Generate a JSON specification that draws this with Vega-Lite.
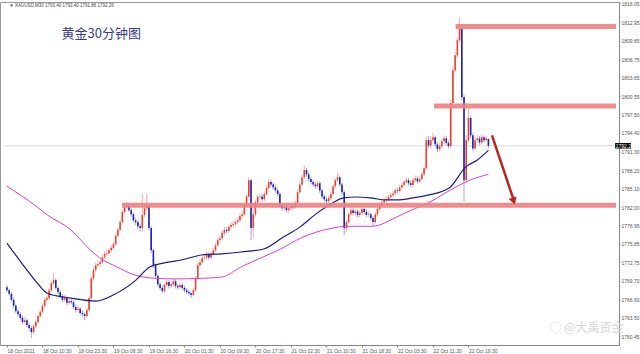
{
"$schema":"https://vega.github.io/schema/vega-lite/v6.json",
"width":619,"height":343,
"autosize":"none",
"padding":{"left":0,"top":2,"right":21,"bottom":9},
"background":"white",
"config":{"view":{"stroke":"#999","strokeWidth":1},"axis":{"grid":false,"labelFont":"Liberation Sans","title":null,"labelOverlap":false,"labelSeparation":0},"axisY":{"labelOverlap":false}},
"datasets":{
"candles":[
{"i":0,"o":1768.6,"h":1769.0,"l":1767.8,"c":1768.1},
{"i":1,"o":1768.1,"h":1768.4,"l":1767.2,"c":1767.5},
{"i":2,"o":1767.5,"h":1767.8,"l":1766.2,"c":1766.5},
{"i":3,"o":1766.5,"h":1766.9,"l":1765.1,"c":1765.5},
{"i":4,"o":1765.5,"h":1765.8,"l":1764.3,"c":1764.6},
{"i":5,"o":1764.6,"h":1765.0,"l":1763.7,"c":1764.1},
{"i":6,"o":1764.1,"h":1764.5,"l":1763.1,"c":1763.5},
{"i":7,"o":1763.5,"h":1763.9,"l":1762.4,"c":1762.8},
{"i":8,"o":1762.8,"h":1763.6,"l":1762.5,"c":1763.1},
{"i":9,"o":1763.1,"h":1763.4,"l":1761.9,"c":1762.3},
{"i":10,"o":1762.3,"h":1762.7,"l":1761.3,"c":1761.8},
{"i":11,"o":1761.8,"h":1762.1,"l":1760.1,"c":1761.1},
{"i":12,"o":1761.1,"h":1762.4,"l":1760.8,"c":1762.1},
{"i":13,"o":1762.1,"h":1763.2,"l":1761.8,"c":1762.8},
{"i":14,"o":1762.8,"h":1764.2,"l":1762.5,"c":1763.8},
{"i":15,"o":1763.8,"h":1764.9,"l":1763.5,"c":1764.5},
{"i":16,"o":1764.5,"h":1765.9,"l":1764.2,"c":1765.5},
{"i":17,"o":1765.5,"h":1766.9,"l":1765.2,"c":1766.5},
{"i":18,"o":1766.5,"h":1767.3,"l":1766.1,"c":1766.8},
{"i":19,"o":1766.8,"h":1768.5,"l":1766.5,"c":1768.1},
{"i":20,"o":1768.1,"h":1769.7,"l":1767.8,"c":1769.3},
{"i":21,"o":1769.3,"h":1771.0,"l":1769.0,"c":1769.8},
{"i":22,"o":1769.8,"h":1770.1,"l":1768.2,"c":1768.5},
{"i":23,"o":1768.5,"h":1768.8,"l":1767.4,"c":1767.8},
{"i":24,"o":1767.8,"h":1768.1,"l":1766.8,"c":1767.1},
{"i":25,"o":1767.1,"h":1767.5,"l":1766.1,"c":1766.5},
{"i":26,"o":1766.5,"h":1767.3,"l":1766.2,"c":1766.8},
{"i":27,"o":1766.8,"h":1767.1,"l":1765.6,"c":1766.0},
{"i":28,"o":1766.0,"h":1766.8,"l":1765.7,"c":1766.3},
{"i":29,"o":1766.3,"h":1766.7,"l":1765.8,"c":1766.1},
{"i":30,"o":1766.1,"h":1766.4,"l":1765.0,"c":1765.3},
{"i":31,"o":1765.3,"h":1765.7,"l":1764.4,"c":1764.8},
{"i":32,"o":1764.8,"h":1765.5,"l":1764.5,"c":1765.0},
{"i":33,"o":1765.0,"h":1765.3,"l":1763.9,"c":1764.3},
{"i":34,"o":1764.3,"h":1764.7,"l":1763.7,"c":1764.1},
{"i":35,"o":1764.1,"h":1764.4,"l":1763.1,"c":1763.8},
{"i":36,"o":1763.8,"h":1765.1,"l":1763.5,"c":1764.8},
{"i":37,"o":1764.8,"h":1767.1,"l":1764.5,"c":1766.8},
{"i":38,"o":1766.8,"h":1770.5,"l":1766.5,"c":1770.1},
{"i":39,"o":1770.1,"h":1771.9,"l":1769.7,"c":1771.5},
{"i":40,"o":1771.5,"h":1772.7,"l":1771.1,"c":1772.3},
{"i":41,"o":1772.3,"h":1773.0,"l":1771.9,"c":1772.5},
{"i":42,"o":1772.5,"h":1773.3,"l":1772.1,"c":1772.8},
{"i":43,"o":1772.8,"h":1774.0,"l":1772.5,"c":1773.6},
{"i":44,"o":1773.6,"h":1774.6,"l":1773.3,"c":1774.2},
{"i":45,"o":1774.2,"h":1774.8,"l":1773.8,"c":1774.3},
{"i":46,"o":1774.3,"h":1775.2,"l":1774.0,"c":1774.8},
{"i":47,"o":1774.8,"h":1775.7,"l":1774.4,"c":1775.2},
{"i":48,"o":1775.2,"h":1776.2,"l":1774.9,"c":1775.8},
{"i":49,"o":1775.8,"h":1777.6,"l":1775.5,"c":1777.2},
{"i":50,"o":1777.2,"h":1778.6,"l":1776.9,"c":1778.2},
{"i":51,"o":1778.2,"h":1779.9,"l":1777.9,"c":1779.5},
{"i":52,"o":1779.5,"h":1781.6,"l":1779.2,"c":1781.2},
{"i":53,"o":1781.2,"h":1782.4,"l":1780.9,"c":1782.0},
{"i":54,"o":1782.0,"h":1782.8,"l":1781.7,"c":1782.2},
{"i":55,"o":1782.2,"h":1782.5,"l":1781.2,"c":1781.5},
{"i":56,"o":1781.5,"h":1781.9,"l":1780.4,"c":1780.8},
{"i":57,"o":1780.8,"h":1781.1,"l":1779.4,"c":1779.8},
{"i":58,"o":1779.8,"h":1780.2,"l":1779.0,"c":1779.5},
{"i":59,"o":1779.5,"h":1779.8,"l":1778.3,"c":1778.8},
{"i":60,"o":1778.8,"h":1779.3,"l":1777.9,"c":1778.5},
{"i":61,"o":1778.5,"h":1784.3,"l":1777.8,"c":1780.7},
{"i":62,"o":1780.7,"h":1782.5,"l":1780.3,"c":1781.8},
{"i":63,"o":1781.8,"h":1784.3,"l":1781.4,"c":1782.2},
{"i":64,"o":1782.2,"h":1782.5,"l":1778.1,"c":1778.5},
{"i":65,"o":1778.5,"h":1778.8,"l":1774.3,"c":1774.8},
{"i":66,"o":1774.8,"h":1775.1,"l":1771.8,"c":1772.3},
{"i":67,"o":1772.3,"h":1772.6,"l":1770.0,"c":1770.5},
{"i":68,"o":1770.5,"h":1770.9,"l":1768.7,"c":1769.1},
{"i":69,"o":1769.1,"h":1769.5,"l":1768.1,"c":1768.5},
{"i":70,"o":1768.5,"h":1768.9,"l":1767.6,"c":1768.0},
{"i":71,"o":1768.0,"h":1769.4,"l":1767.7,"c":1769.0},
{"i":72,"o":1769.0,"h":1769.9,"l":1768.7,"c":1769.5},
{"i":73,"o":1769.5,"h":1769.8,"l":1768.4,"c":1768.8},
{"i":74,"o":1768.8,"h":1769.6,"l":1768.4,"c":1769.1},
{"i":75,"o":1769.1,"h":1770.0,"l":1768.8,"c":1769.6},
{"i":76,"o":1769.6,"h":1769.9,"l":1768.4,"c":1768.8},
{"i":77,"o":1768.8,"h":1769.2,"l":1768.2,"c":1768.6},
{"i":78,"o":1768.6,"h":1769.4,"l":1768.3,"c":1769.0},
{"i":79,"o":1769.0,"h":1769.3,"l":1768.1,"c":1768.5},
{"i":80,"o":1768.5,"h":1768.9,"l":1767.7,"c":1768.1},
{"i":81,"o":1768.1,"h":1768.5,"l":1767.4,"c":1767.8},
{"i":82,"o":1767.8,"h":1768.2,"l":1767.2,"c":1767.6},
{"i":83,"o":1767.6,"h":1767.9,"l":1766.8,"c":1767.3},
{"i":84,"o":1767.3,"h":1768.5,"l":1767.0,"c":1768.1},
{"i":85,"o":1768.1,"h":1770.5,"l":1767.8,"c":1770.1},
{"i":86,"o":1770.1,"h":1772.7,"l":1769.8,"c":1772.3},
{"i":87,"o":1772.3,"h":1773.3,"l":1771.9,"c":1772.8},
{"i":88,"o":1772.8,"h":1773.9,"l":1772.4,"c":1773.5},
{"i":89,"o":1773.5,"h":1774.1,"l":1773.1,"c":1773.6},
{"i":90,"o":1773.6,"h":1774.5,"l":1773.2,"c":1774.0},
{"i":91,"o":1774.0,"h":1774.4,"l":1773.2,"c":1773.6},
{"i":92,"o":1773.6,"h":1774.6,"l":1773.3,"c":1774.2},
{"i":93,"o":1774.2,"h":1775.2,"l":1773.9,"c":1774.8},
{"i":94,"o":1774.8,"h":1776.0,"l":1774.5,"c":1775.6},
{"i":95,"o":1775.6,"h":1776.9,"l":1775.3,"c":1776.5},
{"i":96,"o":1776.5,"h":1777.3,"l":1776.1,"c":1776.8},
{"i":97,"o":1776.8,"h":1778.1,"l":1776.5,"c":1777.7},
{"i":98,"o":1777.7,"h":1778.7,"l":1777.3,"c":1778.2},
{"i":99,"o":1778.2,"h":1778.6,"l":1777.6,"c":1778.0},
{"i":100,"o":1778.0,"h":1779.1,"l":1777.7,"c":1778.7},
{"i":101,"o":1778.7,"h":1779.5,"l":1778.3,"c":1779.0},
{"i":102,"o":1779.0,"h":1779.7,"l":1778.6,"c":1779.2},
{"i":103,"o":1779.2,"h":1779.9,"l":1778.9,"c":1779.5},
{"i":104,"o":1779.5,"h":1780.3,"l":1779.1,"c":1779.8},
{"i":105,"o":1779.8,"h":1780.9,"l":1779.5,"c":1780.5},
{"i":106,"o":1780.5,"h":1781.3,"l":1780.1,"c":1780.8},
{"i":107,"o":1780.8,"h":1782.6,"l":1780.5,"c":1782.2},
{"i":108,"o":1782.2,"h":1784.2,"l":1781.9,"c":1783.8},
{"i":109,"o":1783.8,"h":1787.0,"l":1783.5,"c":1786.5},
{"i":110,"o":1786.5,"h":1786.8,"l":1776.5,"c":1778.5},
{"i":111,"o":1778.5,"h":1782.6,"l":1776.8,"c":1780.8},
{"i":112,"o":1780.8,"h":1783.2,"l":1780.4,"c":1782.8},
{"i":113,"o":1782.8,"h":1784.1,"l":1782.4,"c":1783.7},
{"i":114,"o":1783.7,"h":1784.3,"l":1783.3,"c":1783.8},
{"i":115,"o":1783.8,"h":1784.2,"l":1782.9,"c":1783.3},
{"i":116,"o":1783.3,"h":1784.6,"l":1783.0,"c":1784.2},
{"i":117,"o":1784.2,"h":1785.6,"l":1783.9,"c":1785.2},
{"i":118,"o":1785.2,"h":1786.8,"l":1784.9,"c":1786.2},
{"i":119,"o":1786.2,"h":1786.6,"l":1785.4,"c":1785.8},
{"i":120,"o":1785.8,"h":1786.2,"l":1784.9,"c":1785.3},
{"i":121,"o":1785.3,"h":1785.7,"l":1784.4,"c":1784.8},
{"i":122,"o":1784.8,"h":1785.1,"l":1783.8,"c":1784.2},
{"i":123,"o":1784.2,"h":1784.5,"l":1781.9,"c":1782.3},
{"i":124,"o":1782.3,"h":1782.7,"l":1781.4,"c":1781.8},
{"i":125,"o":1781.8,"h":1782.5,"l":1781.4,"c":1782.0},
{"i":126,"o":1782.0,"h":1782.4,"l":1781.1,"c":1781.5},
{"i":127,"o":1781.5,"h":1782.3,"l":1781.1,"c":1781.8},
{"i":128,"o":1781.8,"h":1782.7,"l":1781.4,"c":1782.2},
{"i":129,"o":1782.2,"h":1782.6,"l":1781.6,"c":1782.0},
{"i":130,"o":1782.0,"h":1783.1,"l":1781.7,"c":1782.7},
{"i":131,"o":1782.7,"h":1784.9,"l":1782.4,"c":1784.5},
{"i":132,"o":1784.5,"h":1786.2,"l":1784.2,"c":1785.8},
{"i":133,"o":1785.8,"h":1787.4,"l":1785.5,"c":1787.0},
{"i":134,"o":1787.0,"h":1789.0,"l":1786.7,"c":1788.2},
{"i":135,"o":1788.2,"h":1788.6,"l":1787.1,"c":1787.5},
{"i":136,"o":1787.5,"h":1787.9,"l":1786.3,"c":1786.7},
{"i":137,"o":1786.7,"h":1787.1,"l":1785.8,"c":1786.2},
{"i":138,"o":1786.2,"h":1786.6,"l":1785.4,"c":1785.8},
{"i":139,"o":1785.8,"h":1786.2,"l":1785.1,"c":1785.5},
{"i":140,"o":1785.5,"h":1786.4,"l":1785.2,"c":1786.0},
{"i":141,"o":1786.0,"h":1786.3,"l":1784.4,"c":1784.8},
{"i":142,"o":1784.8,"h":1785.1,"l":1783.4,"c":1783.8},
{"i":143,"o":1783.8,"h":1784.2,"l":1782.9,"c":1783.3},
{"i":144,"o":1783.3,"h":1783.7,"l":1782.6,"c":1783.0},
{"i":145,"o":1783.0,"h":1783.9,"l":1782.7,"c":1783.5},
{"i":146,"o":1783.5,"h":1784.6,"l":1783.2,"c":1784.2},
{"i":147,"o":1784.2,"h":1785.9,"l":1783.9,"c":1785.5},
{"i":148,"o":1785.5,"h":1786.9,"l":1785.2,"c":1786.5},
{"i":149,"o":1786.5,"h":1787.7,"l":1786.2,"c":1787.0},
{"i":150,"o":1787.0,"h":1787.3,"l":1785.4,"c":1785.8},
{"i":151,"o":1785.8,"h":1786.1,"l":1784.1,"c":1784.5},
{"i":152,"o":1784.5,"h":1784.8,"l":1777.3,"c":1778.5},
{"i":153,"o":1778.5,"h":1779.9,"l":1777.8,"c":1779.5},
{"i":154,"o":1779.5,"h":1781.2,"l":1779.2,"c":1780.8},
{"i":155,"o":1780.8,"h":1781.9,"l":1780.5,"c":1781.5},
{"i":156,"o":1781.5,"h":1781.9,"l":1780.6,"c":1781.0},
{"i":157,"o":1781.0,"h":1781.8,"l":1780.6,"c":1781.3},
{"i":158,"o":1781.3,"h":1781.6,"l":1780.3,"c":1780.7},
{"i":159,"o":1780.7,"h":1781.5,"l":1780.3,"c":1781.0},
{"i":160,"o":1781.0,"h":1782.1,"l":1780.7,"c":1781.7},
{"i":161,"o":1781.7,"h":1782.0,"l":1780.8,"c":1781.2},
{"i":162,"o":1781.2,"h":1781.6,"l":1780.3,"c":1780.7},
{"i":163,"o":1780.7,"h":1781.3,"l":1780.3,"c":1780.8},
{"i":164,"o":1780.8,"h":1781.1,"l":1779.8,"c":1780.2},
{"i":165,"o":1780.2,"h":1780.5,"l":1778.7,"c":1779.5},
{"i":166,"o":1779.5,"h":1781.2,"l":1779.2,"c":1780.8},
{"i":167,"o":1780.8,"h":1782.1,"l":1780.5,"c":1781.7},
{"i":168,"o":1781.7,"h":1782.7,"l":1781.4,"c":1782.3},
{"i":169,"o":1782.3,"h":1783.2,"l":1782.0,"c":1782.8},
{"i":170,"o":1782.8,"h":1783.6,"l":1782.5,"c":1783.2},
{"i":171,"o":1783.2,"h":1783.8,"l":1782.8,"c":1783.3},
{"i":172,"o":1783.3,"h":1784.1,"l":1783.0,"c":1783.7},
{"i":173,"o":1783.7,"h":1784.4,"l":1783.4,"c":1784.0},
{"i":174,"o":1784.0,"h":1784.8,"l":1783.6,"c":1784.3},
{"i":175,"o":1784.3,"h":1785.2,"l":1784.0,"c":1784.8},
{"i":176,"o":1784.8,"h":1785.2,"l":1784.3,"c":1784.7},
{"i":177,"o":1784.7,"h":1785.7,"l":1784.4,"c":1785.3},
{"i":178,"o":1785.3,"h":1786.1,"l":1785.0,"c":1785.7},
{"i":179,"o":1785.7,"h":1786.6,"l":1785.4,"c":1786.2},
{"i":180,"o":1786.2,"h":1787.0,"l":1785.9,"c":1786.5},
{"i":181,"o":1786.5,"h":1786.9,"l":1785.6,"c":1786.0},
{"i":182,"o":1786.0,"h":1786.4,"l":1785.3,"c":1785.7},
{"i":183,"o":1785.7,"h":1786.9,"l":1785.4,"c":1786.5},
{"i":184,"o":1786.5,"h":1787.3,"l":1786.1,"c":1786.8},
{"i":185,"o":1786.8,"h":1787.2,"l":1785.9,"c":1786.3},
{"i":186,"o":1786.3,"h":1787.1,"l":1786.0,"c":1786.7},
{"i":187,"o":1786.7,"h":1787.9,"l":1786.4,"c":1787.5},
{"i":188,"o":1787.5,"h":1788.9,"l":1787.2,"c":1788.5},
{"i":189,"o":1788.5,"h":1793.8,"l":1788.2,"c":1793.2},
{"i":190,"o":1793.2,"h":1793.9,"l":1791.9,"c":1792.3},
{"i":191,"o":1792.3,"h":1793.9,"l":1791.9,"c":1793.2},
{"i":192,"o":1793.2,"h":1794.5,"l":1792.8,"c":1793.7},
{"i":193,"o":1793.7,"h":1794.0,"l":1792.1,"c":1792.5},
{"i":194,"o":1792.5,"h":1792.9,"l":1791.2,"c":1791.7},
{"i":195,"o":1791.7,"h":1792.7,"l":1791.3,"c":1792.2},
{"i":196,"o":1792.2,"h":1793.4,"l":1791.9,"c":1793.0},
{"i":197,"o":1793.0,"h":1794.0,"l":1792.6,"c":1793.5},
{"i":198,"o":1793.5,"h":1793.9,"l":1792.3,"c":1792.7},
{"i":199,"o":1792.7,"h":1793.1,"l":1791.8,"c":1792.2},
{"i":200,"o":1792.2,"h":1799.9,"l":1791.9,"c":1799.4},
{"i":201,"o":1799.4,"h":1805.5,"l":1799.0,"c":1804.9},
{"i":202,"o":1804.9,"h":1808.0,"l":1804.5,"c":1807.4},
{"i":203,"o":1807.4,"h":1810.5,"l":1807.0,"c":1809.9},
{"i":204,"o":1809.9,"h":1813.7,"l":1809.5,"c":1811.9},
{"i":205,"o":1811.9,"h":1812.3,"l":1799.9,"c":1800.4},
{"i":206,"o":1800.4,"h":1800.8,"l":1783.0,"c":1786.5},
{"i":207,"o":1786.5,"h":1794.0,"l":1786.0,"c":1793.2},
{"i":208,"o":1793.2,"h":1798.5,"l":1792.8,"c":1796.9},
{"i":209,"o":1796.9,"h":1797.3,"l":1793.5,"c":1794.0},
{"i":210,"o":1794.0,"h":1794.4,"l":1791.3,"c":1791.8},
{"i":211,"o":1791.8,"h":1793.7,"l":1791.5,"c":1793.2},
{"i":212,"o":1793.2,"h":1794.0,"l":1792.8,"c":1793.5},
{"i":213,"o":1793.5,"h":1793.9,"l":1792.4,"c":1792.8},
{"i":214,"o":1792.8,"h":1794.1,"l":1792.5,"c":1793.7},
{"i":215,"o":1793.7,"h":1794.0,"l":1792.8,"c":1793.2},
{"i":216,"o":1793.2,"h":1793.9,"l":1792.9,"c":1793.5},
{"i":217,"o":1793.4,"h":1793.4,"l":1791.86,"c":1792.26}
],
"maBlue":[
{"i":0,"v":1776.0},{"i":6.7,"v":1772.6},{"i":13.7,"v":1769.3},{"i":18.2,"v":1767.6},{"i":28.8,"v":1766.8},{"i":40.4,"v":1766.3},{"i":47.9,"v":1767.3},{"i":58.1,"v":1769.8},{"i":64.3,"v":1772.0},{"i":70,"v":1772.6},{"i":79,"v":1773.2},{"i":87.8,"v":1774.0},{"i":96.7,"v":1774.2},{"i":105.5,"v":1774.5},{"i":115.7,"v":1775.0},{"i":124.6,"v":1777.0},{"i":132.2,"v":1778.7},{"i":139.7,"v":1781.0},{"i":146.8,"v":1782.7},{"i":151.2,"v":1783.5},{"i":157.4,"v":1783.7},{"i":164.5,"v":1783.5},{"i":170.7,"v":1783.2},{"i":176.5,"v":1783.2},{"i":182.3,"v":1783.5},{"i":189.8,"v":1784.0},{"i":199.6,"v":1785.3},{"i":206.7,"v":1788.7},{"i":212,"v":1789.9},{"i":217,"v":1791.5}
],
"maPink":[
{"i":0,"v":1785.5},{"i":13.7,"v":1782.0},{"i":18.2,"v":1780.7},{"i":28.8,"v":1778.2},{"i":37.7,"v":1774.8},{"i":43.5,"v":1773.1},{"i":47.9,"v":1772.3},{"i":58.1,"v":1770.6},{"i":67,"v":1770.1},{"i":75.8,"v":1770.0},{"i":87.8,"v":1770.1},{"i":96.7,"v":1770.3},{"i":105.5,"v":1772.0},{"i":114.4,"v":1773.5},{"i":123.3,"v":1775.0},{"i":132.2,"v":1776.8},{"i":146.8,"v":1778.5},{"i":153,"v":1778.8},{"i":164.5,"v":1778.8},{"i":176.5,"v":1780.5},{"i":182.3,"v":1781.5},{"i":189.8,"v":1782.7},{"i":199.6,"v":1784.8},{"i":206.7,"v":1786.2},{"i":217,"v":1787.5}
],
"zones":[
{"i":51.9,"i2":274.5,"v":1782.3},
{"i":192.5,"i2":274.5,"v":1798.9},
{"i":202.2,"i2":274.5,"v":1812.2}
]
},
"encoding":{
"x":{"field":"i","type":"quantitative","scale":{"domain":[-0.887,273.6],"nice":false,"zero":false},
"axis":{"values":[0,16,32,48,64,80,96,112,128,144,160,176,192,208],
"labelExpr":"['18 Oct 2021','18 Oct 10:30','18 Oct 23:30','19 Oct 08:30','19 Oct 16:30','20 Oct 01:30','20 Oct 09:30','20 Oct 17:30','21 Oct 02:30','21 Oct 10:30','21 Oct 18:30','22 Oct 03:30','22 Oct 11:30','22 Oct 19:30'][datum.value/16]",
"labelAlign":"left","labelFontSize":5,"labelColor":"#555","labelPadding":1,"tickSize":2,"tickColor":"#888","domainColor":"#888","labelOverlap":false,"labelFlush":false,"labelBound":false,"title":null}},
"y":{"field":"v","type":"quantitative","scale":{"domain":[1758.95,1816.3],"nice":false,"zero":false},
"axis":{"orient":"right","values":[1760.45,1763.5,1766.6,1769.7,1772.75,1775.85,1778.95,1782.0,1785.1,1788.2,1791.3,1794.4,1797.5,1800.55,1803.65,1806.75,1809.85,1812.95,1816.05],
"format":".2f","labelFontSize":5,"labelColor":"#555","labelPadding":1,"tickSize":1,"tickColor":"#888","domainColor":"#888","labelOverlap":false,"labelSeparation":0,"labelBound":false,"labelFlush":false,"title":null}}
},
"layer":[
{
"data":{"values":[{"i":-0.887,"i2":273.6,"v":1792.26}]},
"mark":{"type":"rule","color":"#c8c8c8","strokeWidth":0.7},
"encoding":{"x2":{"field":"i2"}}
},
{
"data":{"name":"candles"},
"transform":[{"fold":["l"],"as":["kl","v"]}],
"mark":{"type":"rule","strokeWidth":0.8},
"encoding":{
"y2":{"field":"h"},
"color":{"condition":{"test":"datum.c >= datum.o","value":"#f09a94"},"value":"#8f8fd6"}
}
},
{
"data":{"name":"candles"},
"transform":[{"fold":["o"],"as":["ko","v"]}],
"mark":{"type":"bar","size":1.6},
"encoding":{
"y2":{"field":"c"},
"color":{"condition":{"test":"datum.c >= datum.o","value":"#e8412f"},"value":"#1e22b4"}
}
},
{
"data":{"name":"maPink"},
"mark":{"type":"line","color":"#e03ce0","strokeWidth":1,"interpolate":"monotone"}
},
{
"data":{"name":"maBlue"},
"mark":{"type":"line","color":"#1c1c86","strokeWidth":1.2,"interpolate":"monotone"}
},
{
"data":{"name":"zones"},
"mark":{"type":"rule","color":"#ef7f7f","strokeWidth":5,"opacity":0.9,"clip":false},
"encoding":{"x2":{"field":"i2"}}
},
{
"data":{"values":[{"i":218.6,"i2":228.2,"v":1794.0,"v2":1783.4}]},
"mark":{"type":"rule","color":"#b8271f","strokeWidth":2.5},
"encoding":{"x2":{"field":"i2"},"y2":{"field":"v2"}}
},
{
"data":{"values":[{"i":228.4,"v":1783.0}]},
"mark":{"type":"point","shape":"triangle-down","filled":true,"size":70,"angle":342,"color":"#b8271f","opacity":1}
},
{
"data":{"values":[{"i":274.1,"i2":281.3,"v":1791.8,"v2":1792.72}]},
"mark":{"type":"bar","color":"#000","clip":false},
"encoding":{"x2":{"field":"i2"},"y2":{"field":"v2"}}
},
{
"data":{"values":[{"i":274.4,"v":1792.26,"t":"1792.26"}]},
"mark":{"type":"text","align":"left","baseline":"middle","clip":false,"fontSize":5,"color":"#ffffff","font":"Liberation Sans"},
"encoding":{"text":{"field":"t"}}
},
{
"data":{"values":[{"i":24.6,"v":1810.9,"t":"黄金30分钟图"}]},
"mark":{"type":"text","align":"left","baseline":"middle","fontSize":13,"color":"#3b3b92","font":"Noto Sans CJK SC"},
"encoding":{"text":{"field":"t"}}
},
{
"data":{"values":[{"i":1.0,"v":1815.6,"t":"▼ XAUUSD,M30  1793.40 1793.40 1791.86 1792.26"}]},
"mark":{"type":"text","align":"left","baseline":"middle","fontSize":4.5,"color":"#444444","font":"Liberation Sans"},
"encoding":{"text":{"field":"t"}}
},
{
"data":{"values":[{"i":244.5,"v":1761.8,"t":"◌ @大禹资金"}]},
"mark":{"type":"text","align":"left","baseline":"middle","fontSize":12,"color":"#d6d6d6","font":"Noto Sans CJK SC","clip":false},
"encoding":{"text":{"field":"t"}}
}
]
}
